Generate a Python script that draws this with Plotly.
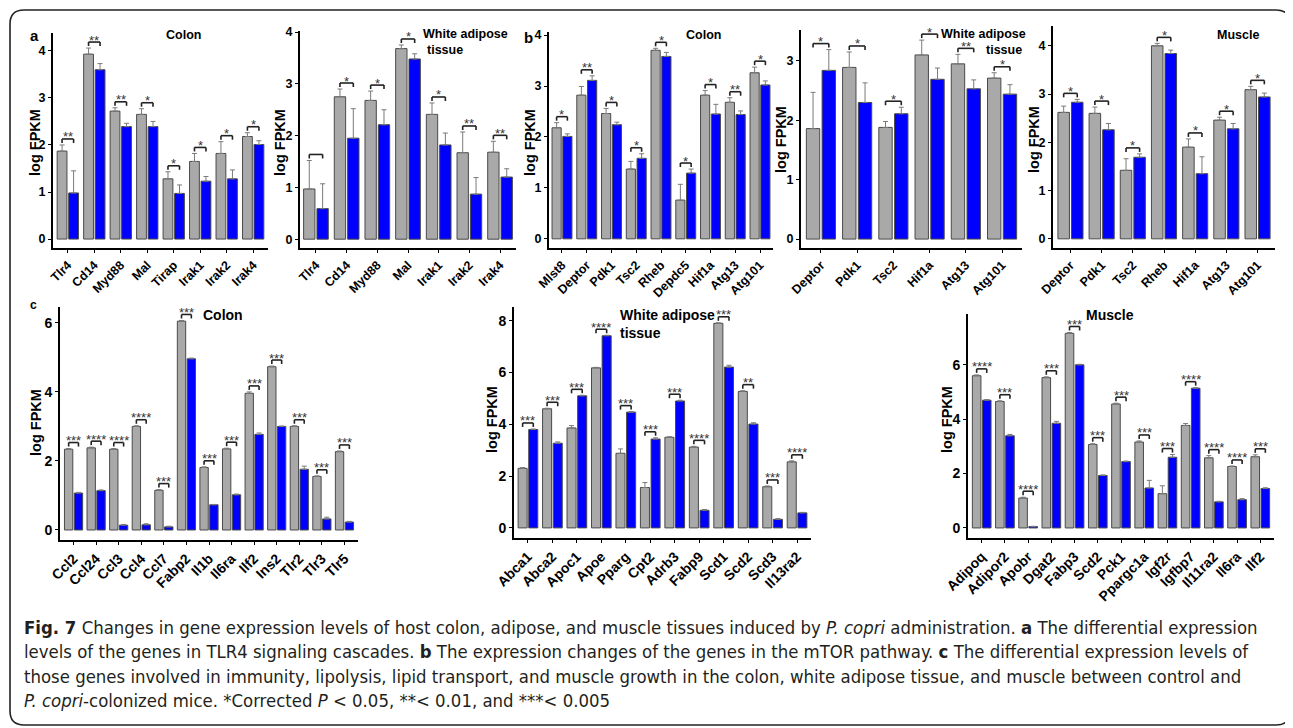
import plotly.graph_objects as go

# ------------------------------------------------------------------ data
# panel a, colon
A_COLON_GENES = ["Tlr4", "Cd14", "Myd88", "Mal", "Tirap", "Irak1", "Irak2", "Irak4"]
A_COLON_CTRL = [1.87, 3.93, 2.72, 2.65, 1.28, 1.65, 1.82, 2.18]
A_COLON_CTRL_ERR = [0.13, 0.13, 0.07, 0.12, 0.15, 0.17, 0.25, 0.08]
A_COLON_PC = [0.98, 3.60, 2.39, 2.39, 0.97, 1.23, 1.28, 2.01]
A_COLON_PC_ERR = [0.47, 0.13, 0.07, 0.11, 0.18, 0.10, 0.19, 0.08]
A_COLON_SIG = ["**", "**", "**", "*", "*", "*", "*", "*"]

# panel a, white adipose tissue
A_WAT_GENES = ["Tlr4", "Cd14", "Myd88", "Mal", "Irak1", "Irak2", "Irak4"]
A_WAT_CTRL = [0.97, 2.75, 2.68, 3.68, 2.41, 1.67, 1.68]
A_WAT_CTRL_ERR = [0.55, 0.15, 0.18, 0.07, 0.22, 0.40, 0.21]
A_WAT_PC = [0.59, 1.95, 2.21, 3.48, 1.82, 0.87, 1.20]
A_WAT_PC_ERR = [0.48, 0.57, 0.29, 0.10, 0.23, 0.32, 0.16]
A_WAT_SIG = ["", "*", "*", "*", "*", "**", "**"]

# panel b, colon
B_COLON_GENES = ["Mlst8", "Deptor", "Pdk1", "Tsc2", "Rheb", "Depdc5", "Hif1a", "Atg13", "Atg101"]
B_COLON_CTRL = [2.18, 2.82, 2.46, 1.37, 3.70, 0.76, 2.82, 2.68, 3.26]
B_COLON_CTRL_ERR = [0.10, 0.17, 0.10, 0.15, 0.04, 0.31, 0.09, 0.09, 0.11]
B_COLON_PC = [2.01, 3.11, 2.24, 1.58, 3.58, 1.29, 2.45, 2.44, 3.02]
B_COLON_PC_ERR = [0.05, 0.09, 0.05, 0.09, 0.08, 0.08, 0.19, 0.07, 0.08]
B_COLON_SIG = ["*", "**", "*", "*", "*", "*", "*", "**", "*"]

# panel b, white adipose tissue
B_WAT_GENES = ["Deptor", "Pdk1", "Tsc2", "Hif1a", "Atg13", "Atg101"]
B_WAT_CTRL = [1.86, 2.89, 1.88, 3.10, 2.95, 2.71]
B_WAT_CTRL_ERR = [0.61, 0.26, 0.10, 0.25, 0.16, 0.09]
B_WAT_PC = [2.84, 2.30, 2.11, 2.69, 2.53, 2.44]
B_WAT_PC_ERR = [0.35, 0.33, 0.11, 0.19, 0.15, 0.16]
B_WAT_SIG = ["*", "*", "*", "*", "**", "*"]

# panel b, muscle
B_MUS_GENES = ["Deptor", "Pdk1", "Tsc2", "Rheb", "Hif1a", "Atg13", "Atg101"]
B_MUS_CTRL = [2.62, 2.60, 1.42, 4.00, 1.90, 2.46, 3.09]
B_MUS_CTRL_ERR = [0.13, 0.13, 0.24, 0.05, 0.17, 0.06, 0.07]
B_MUS_PC = [2.83, 2.26, 1.69, 3.84, 1.35, 2.28, 2.94]
B_MUS_PC_ERR = [0.06, 0.13, 0.07, 0.07, 0.35, 0.11, 0.08]
B_MUS_SIG = ["*", "*", "*", "*", "*", "*", "*"]

# panel c, colon
C_COLON_GENES = ["Ccl2", "Ccl24", "Ccl3", "Ccl4", "Ccl7", "Fabp2", "Il1b", "Il6ra",
                 "Ilf2", "Ins2", "Tlr2", "Tlr3", "Tlr5"]
C_COLON_CTRL = [2.34, 2.38, 2.34, 3.00, 1.15, 6.05, 1.81, 2.35, 3.96, 4.73, 3.00, 1.55, 2.27]
C_COLON_CTRL_ERR = [0.02, 0.02, 0.02, 0.02, 0.02, 0.02, 0.02, 0.02, 0.04, 0.02, 0.02, 0.02, 0.02]
C_COLON_PC = [1.07, 1.14, 0.14, 0.15, 0.09, 4.96, 0.73, 1.02, 2.77, 3.00, 1.76, 0.32, 0.23]
C_COLON_PC_ERR = [0.02, 0.02, 0.02, 0.03, 0.02, 0.02, 0.01, 0.02, 0.04, 0.01, 0.09, 0.05, 0.02]
C_COLON_SIG = ["***", "****", "****", "****", "***", "***", "***", "***",
               "***", "***", "***", "***", "***"]

# panel c, white adipose tissue
C_WAT_GENES = ["Abca1", "Abca2", "Apoc1", "Apoe", "Pparg", "Cpt2", "Adrb3", "Fabp9",
               "Scd1", "Scd2", "Scd3", "Il13ra2"]
C_WAT_CTRL = [2.30, 4.60, 3.86, 6.18, 2.88, 1.56, 3.50, 3.12, 7.90, 5.27, 1.59, 2.55]
C_WAT_CTRL_ERR = [0.03, 0.02, 0.09, 0.02, 0.17, 0.19, 0.02, 0.03, 0.02, 0.03, 0.03, 0.04]
C_WAT_PC = [3.80, 3.27, 5.10, 7.42, 4.47, 3.43, 4.90, 0.68, 6.21, 4.01, 0.33, 0.58]
C_WAT_PC_ERR = [0.02, 0.05, 0.02, 0.02, 0.02, 0.05, 0.03, 0.03, 0.07, 0.05, 0.03, 0.02]
C_WAT_SIG = ["***", "***", "***", "****", "***", "***", "***", "****", "***", "**", "***", "****"]

# panel c, muscle
C_MUS_GENES = ["Adipoq", "Adipor2", "Apobr", "Dgat2", "Fabp3", "Scd2", "Pck1", "Ppargc1a",
               "Igf2r", "Igfbp7", "Il11ra2", "Il6ra", "Ilf2"]
C_MUS_CTRL = [5.60, 4.65, 1.10, 5.53, 7.16, 3.07, 4.56, 3.16, 1.26, 3.77, 2.58, 2.26, 2.62]
C_MUS_CTRL_ERR = [0.03, 0.03, 0.03, 0.03, 0.03, 0.03, 0.03, 0.04, 0.29, 0.07, 0.08, 0.02, 0.07]
C_MUS_PC = [4.70, 3.39, 0.05, 3.85, 6.00, 1.93, 2.44, 1.47, 2.60, 5.14, 0.96, 1.04, 1.45]
C_MUS_PC_ERR = [0.02, 0.05, 0.01, 0.07, 0.02, 0.02, 0.02, 0.28, 0.10, 0.02, 0.02, 0.04, 0.03]
C_MUS_SIG = ["****", "***", "****", "***", "***", "***", "***", "***", "***", "****",
             "****", "****", "***"]

CAPTION_LINES = [
    "<b>Fig. 7</b> Changes in gene expression levels of host colon, adipose, and muscle tissues "
    "induced by <i>P. copri</i> administration. <b>a</b> The differential expression",
    "levels of the genes in TLR4 signaling cascades. <b>b</b> The expression changes of the genes "
    "in the mTOR pathway. <b>c</b> The differential expression levels of",
    "those genes involved in immunity, lipolysis, lipid transport, and muscle growth in the colon, "
    "white adipose tissue, and muscle between control and",
    "<i>P. copri</i>-colonized mice. *Corrected <i>P</i> &lt; 0.05, **&lt; 0.01, and ***&lt; 0.005",
]

# ------------------------------------------------------------------ style / layout
W, H = 1293, 728
OFF = 8  # the page body margin that shifts the figure inside the window
GRAY = "#a9a9a9"
BLUE = "#0000ff"
EDGE = "#4a4a4a"
ERRC = "#7a7a7a"
FONT = "Liberation Sans, Arial, sans-serif"
CAP_FONT = "Liberation Sans Narrow, Arial Narrow, DejaVu Sans Condensed, sans-serif"
BARGAP, BARGROUPGAP = 0.13, 0.15
HALF = (1 - BARGAP) / 4  # offset of each bar centre from category centre


def pxx(x):
    return (x - OFF) / W


def pxy(y):
    return 1 - (y - OFF) / H


panels = [
    dict(g=A_COLON_GENES, c=A_COLON_CTRL, ce=A_COLON_CTRL_ERR, p=A_COLON_PC, pe=A_COLON_PC_ERR,
         s=A_COLON_SIG, x0=53, x1=268, yt=33, yb=248, yr=(-0.19, 4.38), tv=[0, 1, 2, 3, 4],
         r=0.56, xfs=12.5, yfs=12.5, ttl=("log FPKM", 35, 143)),
    dict(g=A_WAT_GENES, c=A_WAT_CTRL, ce=A_WAT_CTRL_ERR, p=A_WAT_PC, pe=A_WAT_PC_ERR,
         s=A_WAT_SIG, x0=300, x1=516, yt=31, yb=248, yr=(-0.17, 4.02), tv=[0, 1, 2, 3, 4],
         r=0.52, xfs=12.5, yfs=12.5, ttl=("log FPKM", 280, 143)),
    dict(g=B_COLON_GENES, c=B_COLON_CTRL, ce=B_COLON_CTRL_ERR, p=B_COLON_PC, pe=B_COLON_PC_ERR,
         s=B_COLON_SIG, x0=549, x1=773, yt=32, yb=248, yr=(-0.18, 4.06), tv=[0, 1, 2, 3, 4],
         r=0.525, xfs=12.5, yfs=12.5, ttl=("log FPKM", 530, 143)),
    dict(g=B_WAT_GENES, c=B_WAT_CTRL, ce=B_WAT_CTRL_ERR, p=B_WAT_PC, pe=B_WAT_PC_ERR,
         s=B_WAT_SIG, x0=801, x1=1022, yt=30, yb=248, yr=(-0.15, 3.52), tv=[0, 1, 2, 3],
         r=0.55, xfs=12.5, yfs=12.5, ttl=("log FPKM", 781, 140)),
    dict(g=B_MUS_GENES, c=B_MUS_CTRL, ce=B_MUS_CTRL_ERR, p=B_MUS_PC, pe=B_MUS_PC_ERR,
         s=B_MUS_SIG, x0=1053, x1=1275, yt=26, yb=248, yr=(-0.19, 4.41), tv=[0, 1, 2, 3, 4],
         r=0.56, xfs=12.5, yfs=12.5, ttl=("log FPKM", 1034, 140)),
    dict(g=C_COLON_GENES, c=C_COLON_CTRL, ce=C_COLON_CTRL_ERR, p=C_COLON_PC, pe=C_COLON_PC_ERR,
         s=C_COLON_SIG, x0=60, x1=358, yt=307, yb=540, yr=(-0.29, 6.46), tv=[0, 2, 4, 6],
         r=0.6, xfs=14, yfs=14, ttl=("log FPKM", 36, 423)),
    dict(g=C_WAT_GENES, c=C_WAT_CTRL, ce=C_WAT_CTRL_ERR, p=C_WAT_PC, pe=C_WAT_PC_ERR,
         s=C_WAT_SIG, x0=514, x1=811, yt=307, yb=538, yr=(-0.39, 8.53), tv=[0, 2, 4, 6, 8],
         r=0.57, xfs=14, yfs=14, ttl=("log FPKM", 492, 420)),
    dict(g=C_MUS_GENES, c=C_MUS_CTRL, ce=C_MUS_CTRL_ERR, p=C_MUS_PC, pe=C_MUS_PC_ERR,
         s=C_MUS_SIG, x0=968, x1=1274, yt=314, yb=538, yr=(-0.37, 7.87), tv=[0, 2, 4, 6],
         r=0.59, xfs=14, yfs=14, ttl=("log FPKM", 947, 420)),
]

fig = go.Figure()
shapes, annotations = [], []
layout_axes = {}

for k, P in enumerate(panels, start=1):
    xa = "x" if k == 1 else f"x{k}"
    ya = "y" if k == 1 else f"y{k}"
    n = len(P["g"])
    for vals, errs, col in ((P["c"], P["ce"], GRAY), (P["p"], P["pe"], BLUE)):
        fig.add_trace(go.Bar(
            x=P["g"], y=vals, xaxis=xa, yaxis=ya, marker=dict(color=col, line=dict(color=EDGE, width=1)),
            error_y=dict(type="data", symmetric=False, array=errs, arrayminus=[0] * n,
                         color=ERRC, thickness=1, width=2.5),
            showlegend=False, hoverinfo="x+y"))
    axis_font = dict(family=FONT, color="black", weight="bold")
    layout_axes["xaxis" if k == 1 else f"xaxis{k}"] = dict(
        domain=[pxx(P["x0"]), pxx(P["x1"])], anchor=ya, type="category", automargin=False,
        range=[-P["r"], n - 1 + P["r"]], showline=True, linecolor="black", linewidth=2,
        ticks="outside", ticklen=3, tickcolor="black", tickangle=-45, showgrid=False,
        zeroline=False, tickfont=dict(size=P["xfs"], **axis_font), fixedrange=True)
    layout_axes["yaxis" if k == 1 else f"yaxis{k}"] = dict(
        domain=[pxy(P["yb"]), pxy(P["yt"])], anchor=xa, range=list(P["yr"]), automargin=False,
        tickvals=P["tv"], showline=True, linecolor="black", linewidth=2, ticks="outside",
        ticklen=3, tickcolor="black", showgrid=False, zeroline=False,
        tickfont=dict(size=P["yfs"], **axis_font), fixedrange=True)

    # significance brackets, placed above the taller error bar
    unit = (P["yb"] - P["yt"]) / (P["yr"][1] - P["yr"][0])  # px per data unit
    pad, tick = 6 / unit, 4 / unit
    for i in range(n):
        top = max(P["c"][i] + P["ce"][i], P["p"][i] + P["pe"][i])
        h = top + pad
        xl, xr = i - HALF, i + HALF
        for (a0, b0, a1, b1) in ((xl, h - tick, xl, h), (xl, h, xr, h), (xr, h, xr, h - tick)):
            shapes.append(dict(type="line", xref=xa, yref=ya, x0=a0, y0=b0, x1=a1, y1=b1,
                               line=dict(color="#222222", width=1.6)))
        if P["s"][i]:
            annotations.append(dict(x=i, y=h, xref=xa, yref=ya, text=P["s"][i], showarrow=False,
                                    xanchor="center", yanchor="middle", yshift=2,
                                    font=dict(family=FONT, size=13, color="#333333")))
    t, tx, ty = P["ttl"]
    annotations.append(dict(x=pxx(tx), y=pxy(ty), xref="paper", yref="paper", text=t,
                            showarrow=False, textangle=-90, xanchor="center", yanchor="middle",
                            font=dict(family=FONT, size=14.5, color="black", weight="bold")))

# panel letters and titles
def txt(text, x, y, size, anchor="center", weight="bold"):
    annotations.append(dict(x=pxx(x), y=pxy(y), xref="paper", yref="paper", text=text,
                            showarrow=False, xanchor=anchor, yanchor="middle",
                            font=dict(family=FONT, size=size, color="black", weight=weight)))


txt("a", 34, 36, 15)
txt("Colon", 183, 35, 12.5)
txt("White adipose", 421, 34, 12.5, "left")
txt("tissue", 425, 50, 12.5, "left")
txt("b", 528, 38, 15)
txt("Colon", 703, 35, 12.5)
txt("White adipose", 1028, 34, 12.5, "right")
txt("tissue", 1024, 50, 12.5, "right")
txt("Muscle", 1238, 35, 12.5)
txt("c", 33, 305, 12)
txt("Colon", 223, 315, 14)
txt("White adipose", 618, 315, 14, "left")
txt("tissue", 618, 333, 14, "left")
txt("Muscle", 1110, 315, 14)

# caption
for j, line in enumerate(CAPTION_LINES):
    annotations.append(dict(x=pxx(22), y=pxy(627 + 24.5 * j), xref="paper", yref="paper",
                            text=line, showarrow=False, xanchor="left", yanchor="middle",
                            font=dict(family=CAP_FONT, size=18.4, color="#231f20")))

# rounded outer frame
L, T, R_, B, RAD = 10, 10, 1290, 725, 14


def pt(x, y):
    return f"{pxx(x):.5f},{pxy(y):.5f}"


frame = (f"M {pt(L + RAD, T)} L {pt(R_ - RAD, T)} Q {pt(R_, T)} {pt(R_, T + RAD)} "
         f"L {pt(R_, B - RAD)} Q {pt(R_, B)} {pt(R_ - RAD, B)} L {pt(L + RAD, B)} "
         f"Q {pt(L, B)} {pt(L, B - RAD)} L {pt(L, T + RAD)} Q {pt(L, T)} {pt(L + RAD, T)} Z")
shapes.append(dict(type="path", xref="paper", yref="paper", path=frame,
                   line=dict(color="#222222", width=1.6)))

fig.update_layout(
    width=W, height=H, margin=dict(l=0, r=0, t=0, b=0, autoexpand=False), paper_bgcolor="white",
    plot_bgcolor="white", barmode="group", bargap=BARGAP, bargroupgap=BARGROUPGAP,
    showlegend=False, shapes=shapes, annotations=annotations, **layout_axes)

fig.write_html("out.html")
